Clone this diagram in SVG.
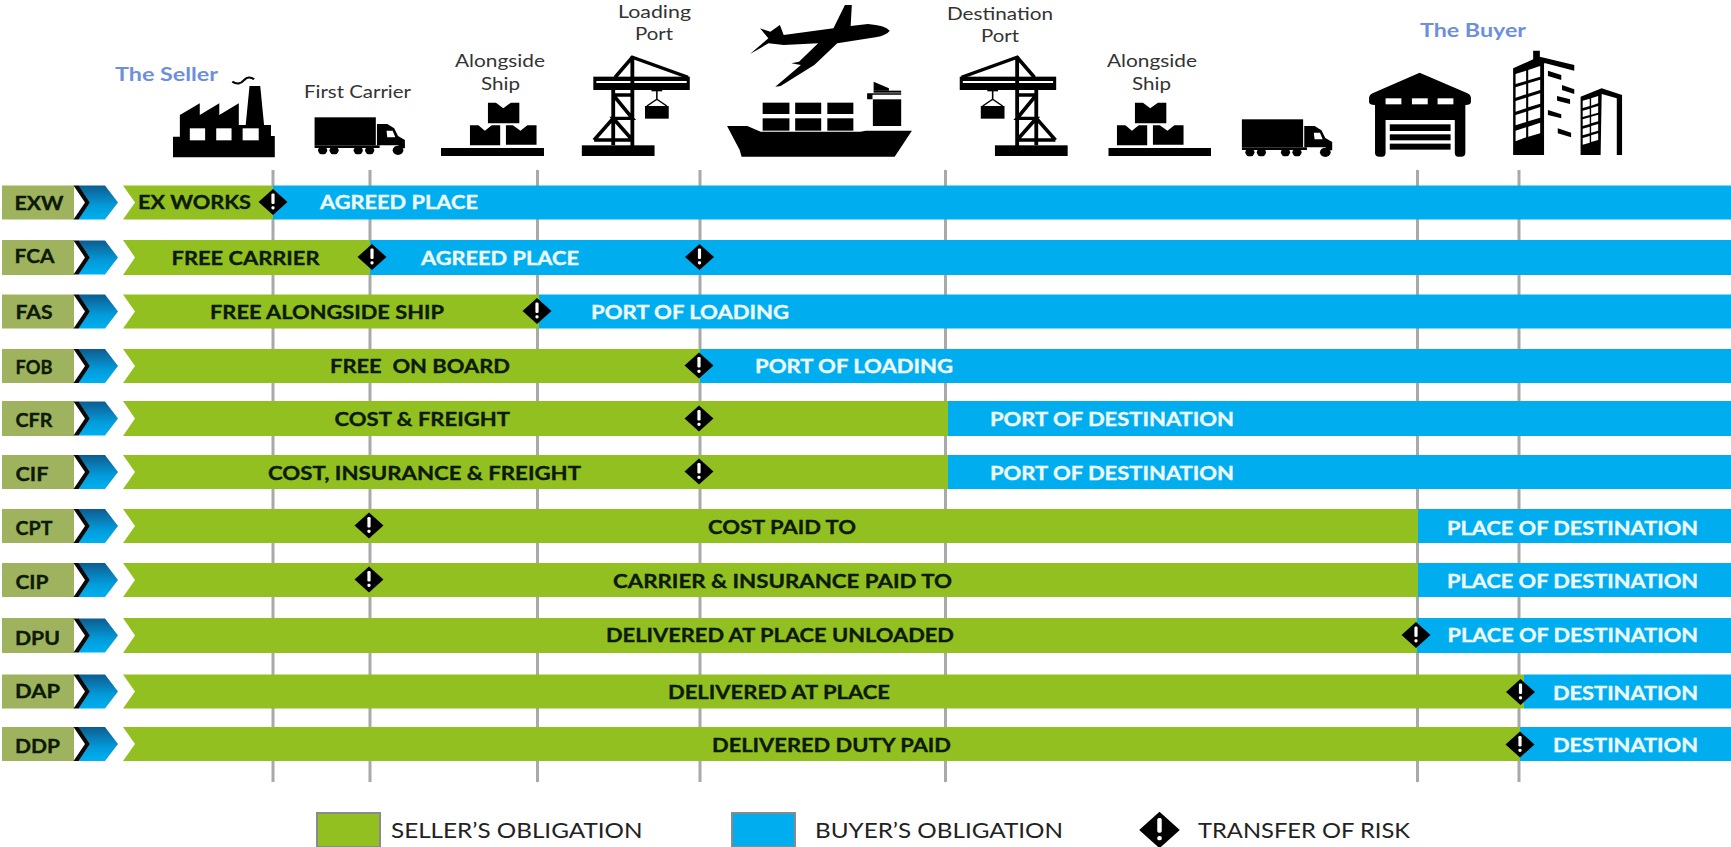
<svg xmlns="http://www.w3.org/2000/svg" xmlns:xlink="http://www.w3.org/1999/xlink" width="1731" height="847" viewBox="0 0 1731 847">
<style>
text{font-family:Lato,"Open Sans","Liberation Sans",sans-serif}
.g{fill:#92C020}.b{fill:#00AEEF}.o{fill:#9FB35E}
.k{font-weight:700;font-size:19px;fill:#0c1a06;stroke:#0c1a06;stroke-width:.35px}
.w{font-weight:700;font-size:19px;fill:#eef9ff;stroke:#eef9ff;stroke-width:.35px}
.c{font-weight:700;font-size:19px;fill:#0c1a06;stroke:#0c1a06;stroke-width:.35px}
.t{font-size:18px;fill:#333}
.h{font-weight:700;font-size:19px;fill:#6D8FDC}
.l{font-size:22px;fill:#222}
.v{stroke:#A9A9A9;stroke-width:3;fill:none}
.i{fill:#000}.x{fill:#fff}
</style>
<defs>
<linearGradient id="cg" x1="0" y1="0" x2="0" y2="1"><stop offset="0" stop-color="#0E5C8F"/><stop offset=".6" stop-color="#029BDA"/><stop offset="1" stop-color="#00B0F0"/></linearGradient>
<g id="lead">
<polygon fill="url(#cg)" points="78,0 105,0 118,17 105,34 78,34 90,17"/>
<polygon fill="#0a0a0a" points="73.5,0 78.5,0 90,17 78.5,34 73.5,34 85,17"/>
</g>
<g id="risk"><polygon class="i" points="-14.5,0 0,-13 14.5,0 0,13"/><rect class="x" x="-1.6" y="-8.5" width="3.2" height="10.5" rx="1.2"/><rect class="x" x="-1.6" y="4.2" width="3.2" height="3.2" rx="1.4"/></g>
<g id="truck" transform="scale(.3827,.3333)">
<rect class="i" x="822" y="352" width="160" height="84"/>
<path class="i" d="M985 372H1012L1030 385L1040 408L1058 420V445H1050L1040 436H985Z"/>
<path class="x" d="M1010 392H1026L1033 412H1012Z"/>
<rect class="i" x="822" y="436" width="170" height="8"/>
<circle class="i" cx="843" cy="451" r="12"/><circle class="i" cx="873" cy="451" r="12"/><circle class="i" cx="936" cy="451" r="12"/><circle class="i" cx="966" cy="451" r="12"/><circle class="i" cx="1040" cy="451" r="14"/>
</g>
<g id="boxes" transform="scale(.3827,.3333)">
<path class="i" d="M1275 308H1296L1315 325L1335 308H1357V370H1275Z"/>
<path class="i" d="M1228 376H1250L1267 392L1285 376H1307V436H1228Z"/>
<path class="i" d="M1322 376H1340L1360 392L1378 376H1402V434H1322Z"/>
</g>
<g id="crane" transform="translate(600,0) scale(.3827,.3333)">
<rect class="i" x="1032" y="436" width="190" height="32"/>
<rect class="i" x="940" y="230" width="252" height="40"/>
<rect class="x" x="948" y="243" width="236" height="6"/>
<path fill="none" stroke="#000" stroke-width="10" d="M945 232L1090 172L1135 232M1090 168V440M1140 270V355M1090 285H1140M1140 285L1090 355H1140L1090 420M1140 355L1190 420M1140 355V436M1090 420H1190"/>
<rect class="i" x="1012" y="258" width="28" height="16"/>
<path fill="none" stroke="#000" stroke-width="4" d="M1026 272V298M1026 298L1000 318M1026 298L1052 318"/>
<rect class="i" x="995" y="318" width="62" height="38"/>
</g>
</defs>
<rect width="1731" height="847" fill="#fff"/>

<g id="connectors">
<path class="v" d="M273 170V782M370 170V782M537.5 170V782M700 170V782M945.5 170V782M1417.5 170V782M1519 170V782"/>
</g>

<g id="icons">
<g id="icon-seller" transform="scale(.3827,.3333)">
<path class="i" d="M452 472V410H470V345L522 310V345L573 310V345L624 310V375H642L652 258H680L690 375H708V408H718V472Z"/>
<rect class="x" x="496" y="385" width="40" height="36"/><rect class="x" x="565" y="385" width="40" height="36"/><rect class="x" x="634" y="385" width="42" height="36"/>
<path fill="none" stroke="#000" stroke-width="6" d="M607 245Q625 258 638 240Q650 226 664 238"/>
</g>
<use id="icon-truck1" xlink:href="#truck" href="#truck"/>
<g id="icon-boxes1"><use xlink:href="#boxes" href="#boxes"/><rect class="i" x="441" y="148" width="103" height="8"/></g>
<use id="icon-crane-load" xlink:href="#crane" href="#crane" transform="translate(1649.5,0) scale(-1,1)"/>
<use id="icon-crane-dest" xlink:href="#crane" href="#crane"/>
<g id="icon-plane-ship" transform="translate(600,0) scale(.3827,.3333)">
<path class="i" d="M757 92Q745 76 700 72L655 78L658 15H640L610 85L480 105L470 75L445 95L418 85L440 115L392 162L440 130L480 135L570 130L520 185L500 190L525 195L458 260L472 258L560 195L620 130L720 112Q750 105 757 92Z"/>
<path class="i" d="M332 378H385L420 395H680L695 392H815L770 470H370L365 450Z"/>
<rect class="i" x="425" y="308" width="70" height="34"/><rect class="i" x="510" y="308" width="68" height="34"/><rect class="i" x="594" y="308" width="68" height="34"/>
<rect class="i" x="425" y="355" width="70" height="37"/><rect class="i" x="510" y="355" width="68" height="37"/><rect class="i" x="594" y="355" width="68" height="37"/>
<path class="i" d="M713 298H787V378H713Z"/><path class="i" d="M698 298V280H787V284H712V298Z"/><path class="i" d="M715 245L755 265V272H715Z"/><rect class="i" x="715" y="272" width="72" height="6"/>
</g>
<use id="icon-boxes2-top" xlink:href="#boxes" href="#boxes" transform="translate(647,0)"/>
<rect id="icon-boxes2-base" class="i" x="1108.5" y="148" width="102.5" height="8"/>
<use id="icon-truck2" xlink:href="#truck" href="#truck" transform="translate(927.3,2)"/>
<g id="icon-buyer" transform="translate(1180,0) scale(.3514,.3333)">
<path class="i" d="M538 295Q538 285 548 280L682 218L818 280Q828 285 828 295V305Q828 315 812 315V458Q812 470 800 470H792Q782 470 782 458V360H585V458Q585 470 575 470H567Q555 470 555 458V315Q538 315 538 305Z"/>
<rect class="x" x="585" y="295" width="45" height="18"/><rect class="x" x="660" y="295" width="45" height="18"/><rect class="x" x="733" y="295" width="45" height="18"/>
<rect class="i" x="597" y="373" width="173" height="20"/><rect class="i" x="597" y="403" width="173" height="18"/><rect class="i" x="597" y="431" width="173" height="18"/>
<path class="i" d="M948 205L1005 178V152H1024V170L1122 195V212L1040 190H1036V465H948Z"/>
<path class="x" d="M955 222L985 212V243L955 252ZM991 210L1025 198V230L991 241ZM955 262L985 252V283L955 293ZM991 250L1025 239V270L991 281ZM955 303L985 293V325L955 335ZM991 291L1025 280V311L991 322ZM955 345L985 335V366L955 376ZM991 333L1025 321V353L991 364ZM955 392L985 382V412L955 424ZM991 380L1025 368V400L991 410Z"/>
<path class="i" d="M1047 212L1085 225V240L1047 228ZM1087 255L1122 268V282L1087 270ZM1073 288L1110 298V312L1073 302ZM1047 330L1085 343V355L1047 345ZM1075 385L1113 398V412L1075 400Z"/>
<path class="i" d="M1140 290L1200 265L1258 285V465H1243V295L1200 282L1197 465H1140Z"/>
<path class="x" d="M1146 302L1166 296V318L1146 324ZM1170 295L1190 288V310L1170 317ZM1146 332L1166 326V345L1146 351ZM1170 324L1190 318V338L1170 344ZM1146 358L1166 352V372L1146 378ZM1170 350L1190 344V364L1170 370ZM1146 386L1166 380V400L1146 406ZM1170 378L1190 372V392L1170 398ZM1146 414L1166 408V428L1146 434ZM1170 406L1190 400V420L1170 426Z"/>
</g>
</g>

<g id="top-labels">
<text class="h" x="115" y="81" textLength="103" lengthAdjust="spacingAndGlyphs">The Seller</text>
<text class="t" x="304" y="98" textLength="107" lengthAdjust="spacingAndGlyphs">First Carrier</text>
<text class="t" x="455" y="67" textLength="90" lengthAdjust="spacingAndGlyphs">Alongside</text>
<text class="t" x="481" y="90" textLength="39" lengthAdjust="spacingAndGlyphs">Ship</text>
<text class="t" x="618" y="17.5" textLength="73" lengthAdjust="spacingAndGlyphs">Loading</text>
<text class="t" x="635" y="40" textLength="38" lengthAdjust="spacingAndGlyphs">Port</text>
<text class="t" x="947" y="19.5" textLength="106" lengthAdjust="spacingAndGlyphs">Destination</text>
<text class="t" x="981" y="42" textLength="38" lengthAdjust="spacingAndGlyphs">Port</text>
<text class="t" x="1107" y="67" textLength="90" lengthAdjust="spacingAndGlyphs">Alongside</text>
<text class="t" x="1132" y="90" textLength="39" lengthAdjust="spacingAndGlyphs">Ship</text>
<text class="h" x="1420" y="36.5" textLength="106" lengthAdjust="spacingAndGlyphs">The Buyer</text>
</g>

<g id="row-EXW">
<rect class="o" x="2" y="185.5" width="72" height="34"/><use xlink:href="#lead" href="#lead" y="185.5"/>
<polygon class="g" points="123,185.5 273,185.5 273,219.5 123,219.5 135,202.5"/><rect class="b" x="273" y="185.5" width="1458" height="34"/>
<use xlink:href="#risk" href="#risk" x="273" y="202"/>
<text class="c" x="14.5" y="210" textLength="49" lengthAdjust="spacingAndGlyphs">EXW</text>
<text class="k" x="138" y="209" textLength="113" lengthAdjust="spacingAndGlyphs">EX WORKS</text>
<text class="w" x="320" y="209" textLength="158" lengthAdjust="spacingAndGlyphs">AGREED PLACE</text>
</g>
<g id="row-FCA">
<rect class="o" x="2" y="240" width="72" height="35"/><use xlink:href="#lead" href="#lead" y="240.5"/>
<polygon class="g" points="123,240 370,240 370,275 123,275 135,257.5"/><rect class="b" x="370" y="240" width="1361" height="35"/>
<use xlink:href="#risk" href="#risk" x="372" y="257"/><use xlink:href="#risk" href="#risk" x="699.5" y="257"/>
<text class="c" x="14.5" y="263" textLength="40" lengthAdjust="spacingAndGlyphs">FCA</text>
<text class="k" x="171.5" y="265" textLength="148" lengthAdjust="spacingAndGlyphs">FREE CARRIER</text>
<text class="w" x="421" y="265" textLength="158" lengthAdjust="spacingAndGlyphs">AGREED PLACE</text>
</g>
<g id="row-FAS">
<rect class="o" x="2" y="294.5" width="72" height="34"/><use xlink:href="#lead" href="#lead" y="294.5"/>
<polygon class="g" points="123,294.5 539,294.5 539,328.5 123,328.5 135,311.5"/><rect class="b" x="539" y="294.5" width="1192" height="34"/>
<use xlink:href="#risk" href="#risk" x="537" y="311"/>
<text class="c" x="15.5" y="319" textLength="37" lengthAdjust="spacingAndGlyphs">FAS</text>
<text class="k" x="210" y="319" textLength="234" lengthAdjust="spacingAndGlyphs">FREE ALONGSIDE SHIP</text>
<text class="w" x="591" y="319" textLength="198" lengthAdjust="spacingAndGlyphs">PORT OF LOADING</text>
</g>
<g id="row-FOB">
<rect class="o" x="2" y="349" width="72" height="34"/><use xlink:href="#lead" href="#lead" y="349"/>
<polygon class="g" points="123,349 700,349 700,383 123,383 135,366"/><rect class="b" x="700" y="349" width="1031" height="34"/>
<use xlink:href="#risk" href="#risk" x="699" y="365.5"/>
<text class="c" x="15.5" y="374" textLength="37" lengthAdjust="spacingAndGlyphs">FOB</text>
<text class="k" x="330" y="373" textLength="180" lengthAdjust="spacingAndGlyphs" xml:space="preserve">FREE  ON BOARD</text>
<text class="w" x="755" y="373" textLength="198" lengthAdjust="spacingAndGlyphs">PORT OF LOADING</text>
</g>
<g id="row-CFR">
<rect class="o" x="2" y="401" width="72" height="35"/><use xlink:href="#lead" href="#lead" y="401.5"/>
<polygon class="g" points="123,401 948,401 948,436 123,436 135,418.5"/><rect class="b" x="948" y="401" width="783" height="35"/>
<use xlink:href="#risk" href="#risk" x="699" y="418.5"/>
<text class="c" x="15.5" y="427" textLength="37" lengthAdjust="spacingAndGlyphs">CFR</text>
<text class="k" x="334.5" y="426" textLength="175.5" lengthAdjust="spacingAndGlyphs">COST &amp; FREIGHT</text>
<text class="w" x="990" y="426" textLength="244" lengthAdjust="spacingAndGlyphs">PORT OF DESTINATION</text>
</g>
<g id="row-CIF">
<rect class="o" x="2" y="455" width="72" height="34"/><use xlink:href="#lead" href="#lead" y="455"/>
<polygon class="g" points="123,455 948,455 948,489 123,489 135,472"/><rect class="b" x="948" y="455" width="783" height="34"/>
<use xlink:href="#risk" href="#risk" x="699" y="471.5"/>
<text class="c" x="15.5" y="481" textLength="33" lengthAdjust="spacingAndGlyphs">CIF</text>
<text class="k" x="268" y="480" textLength="313" lengthAdjust="spacingAndGlyphs">COST, INSURANCE &amp; FREIGHT</text>
<text class="w" x="990" y="480" textLength="244" lengthAdjust="spacingAndGlyphs">PORT OF DESTINATION</text>
</g>
<g id="row-CPT">
<rect class="o" x="2" y="509" width="72" height="34"/><use xlink:href="#lead" href="#lead" y="509"/>
<polygon class="g" points="123,509 1418,509 1418,543 123,543 135,526"/><rect class="b" x="1418" y="509" width="313" height="34"/>
<use xlink:href="#risk" href="#risk" x="369" y="525.5"/>
<text class="c" x="15.5" y="535" textLength="37" lengthAdjust="spacingAndGlyphs">CPT</text>
<text class="k" x="708" y="534" textLength="148" lengthAdjust="spacingAndGlyphs">COST PAID TO</text>
<text class="w" x="1447" y="535" textLength="251" lengthAdjust="spacingAndGlyphs">PLACE OF DESTINATION</text>
</g>
<g id="row-CIP">
<rect class="o" x="2" y="563" width="72" height="34"/><use xlink:href="#lead" href="#lead" y="563"/>
<polygon class="g" points="123,563 1418,563 1418,597 123,597 135,580"/><rect class="b" x="1418" y="563" width="313" height="34"/>
<use xlink:href="#risk" href="#risk" x="369" y="579.5"/>
<text class="c" x="15.5" y="589" textLength="33" lengthAdjust="spacingAndGlyphs">CIP</text>
<text class="k" x="613" y="588" textLength="339" lengthAdjust="spacingAndGlyphs">CARRIER &amp; INSURANCE PAID TO</text>
<text class="w" x="1447" y="588" textLength="251" lengthAdjust="spacingAndGlyphs">PLACE OF DESTINATION</text>
</g>
<g id="row-DPU">
<rect class="o" x="2" y="618" width="72" height="35"/><use xlink:href="#lead" href="#lead" y="618.5"/>
<polygon class="g" points="123,618 1417,618 1417,653 123,653 135,635.5"/><rect class="b" x="1417" y="618" width="314" height="35"/>
<use xlink:href="#risk" href="#risk" x="1416" y="635"/>
<text class="c" x="15" y="645" textLength="45" lengthAdjust="spacingAndGlyphs">DPU</text>
<text class="k" x="606" y="642" textLength="348" lengthAdjust="spacingAndGlyphs">DELIVERED AT PLACE UNLOADED</text>
<text class="w" x="1447.5" y="642" textLength="250.5" lengthAdjust="spacingAndGlyphs">PLACE OF DESTINATION</text>
</g>
<g id="row-DAP">
<rect class="o" x="2" y="674.5" width="72" height="34"/><use xlink:href="#lead" href="#lead" y="674.5"/>
<polygon class="g" points="123,674.5 1524,674.5 1524,708.5 123,708.5 135,691.5"/><rect class="b" x="1524" y="674.5" width="207" height="34"/>
<use xlink:href="#risk" href="#risk" x="1520.5" y="692"/>
<text class="c" x="15" y="698" textLength="45" lengthAdjust="spacingAndGlyphs">DAP</text>
<text class="k" x="668" y="699" textLength="222" lengthAdjust="spacingAndGlyphs">DELIVERED AT PLACE</text>
<text class="w" x="1553" y="699.5" textLength="145" lengthAdjust="spacingAndGlyphs">DESTINATION</text>
</g>
<g id="row-DDP">
<rect class="o" x="2" y="727" width="72" height="34"/><use xlink:href="#lead" href="#lead" y="727"/>
<polygon class="g" points="123,727 1520,727 1520,761 123,761 135,744"/><rect class="b" x="1520" y="727" width="211" height="34"/>
<use xlink:href="#risk" href="#risk" x="1520" y="744.5"/>
<text class="c" x="15" y="753" textLength="45" lengthAdjust="spacingAndGlyphs">DDP</text>
<text class="k" x="712" y="752" textLength="239" lengthAdjust="spacingAndGlyphs">DELIVERED DUTY PAID</text>
<text class="w" x="1553" y="752" textLength="145" lengthAdjust="spacingAndGlyphs">DESTINATION</text>
</g>

<g id="legend">
<rect class="g" x="317" y="813" width="63" height="34" stroke="#8a8a8a" stroke-width="2"/>
<text class="l" x="391" y="838" textLength="251.5" lengthAdjust="spacingAndGlyphs">SELLER’S OBLIGATION</text>
<rect class="b" x="732" y="813" width="63" height="34" stroke="#8a8a8a" stroke-width="2"/>
<text class="l" x="815" y="838" textLength="248" lengthAdjust="spacingAndGlyphs">BUYER’S OBLIGATION</text>
<use xlink:href="#risk" href="#risk" transform="translate(1159.5,830) scale(1.4)"/>
<text class="l" x="1198" y="838" textLength="212" lengthAdjust="spacingAndGlyphs">TRANSFER OF RISK</text>
</g>
</svg>
